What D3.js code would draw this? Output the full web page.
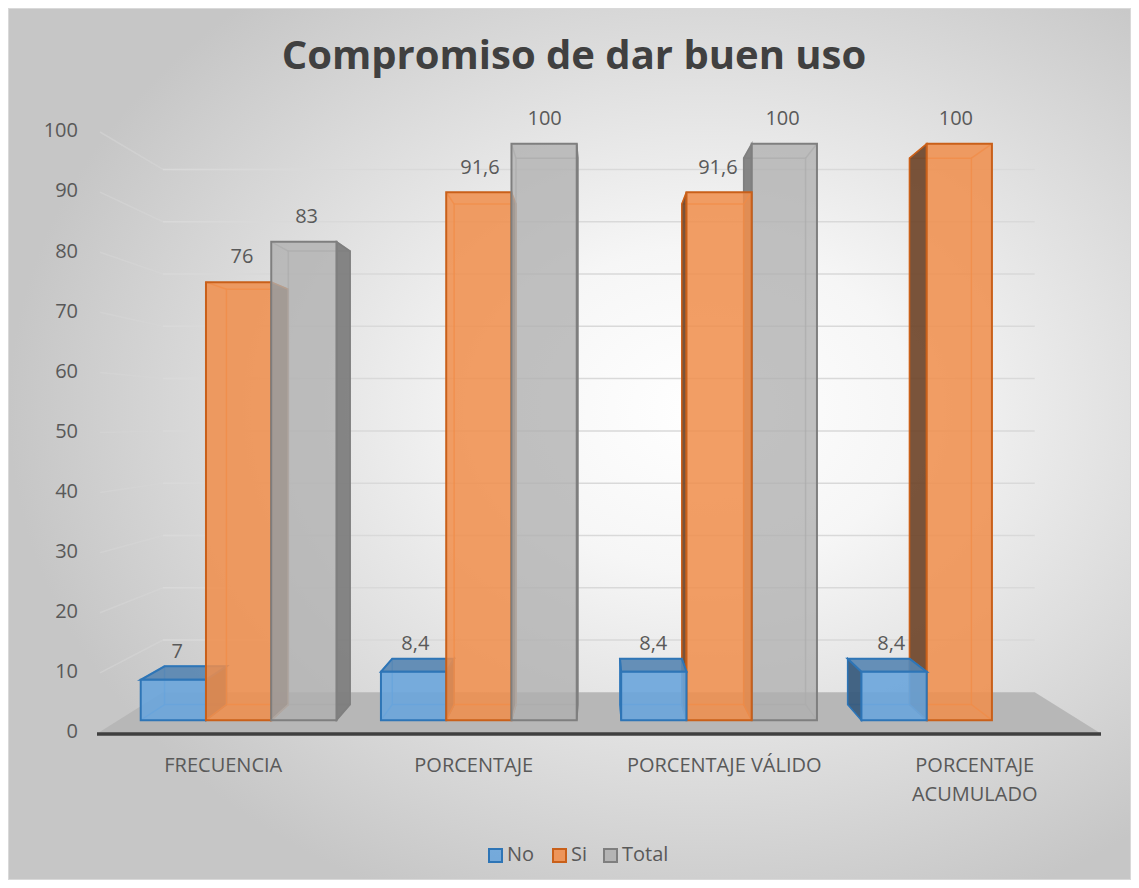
<!DOCTYPE html>
<html>
<head>
<meta charset="utf-8">
<script src="https://cdn.jsdelivr.net/npm/d3@7"></script>
<style>
  body { margin: 0; background: #ffffff; }
  svg text { font-family: "Open Sans", "Noto Sans", sans-serif; fill: #595959; }
</style>
</head>
<body>
<svg id="chart" width="1139" height="888"></svg>
<script>
// chart data
var categories = ["FRECUENCIA", "PORCENTAJE", "PORCENTAJE VÁLIDO", "PORCENTAJE ACUMULADO"];
var seriesNames = ["No", "Si", "Total"];
var noValues = [7, 8.4, 8.4, 8.4];
var siValues = [76, 91.6, 91.6, 100];
var totalValues = [83, 100, 100, null];
var yTicks = [0, 10, 20, 30, 40, 50, 60, 70, 80, 90, 100];

var seriesValues = [noValues, siValues, totalValues];
var colors = ["#6AA5DB", "#F08E4C", "#B0B0B0"];
var sideColors = ["#35597c", "#6f452a", "#7c7c7c"];
var strokes = ["#2E75B6", "#C9601A", "#7F7F7F"];
var opac = [0.9, 0.86, 0.78];

var svg = d3.select("#chart"),
    width = +svg.attr("width"),
    height = +svg.attr("height");

// background gradient
var defs = svg.append("defs");
var grad = defs.append("radialGradient")
    .attr("id", "bg")
    .attr("cx", "0.62").attr("cy", "0.46").attr("r", "0.62");
grad.append("stop").attr("offset", "0").attr("stop-color", "#ffffff");
grad.append("stop").attr("offset", "0.3").attr("stop-color", "#f6f6f6");
grad.append("stop").attr("offset", "1").attr("stop-color", "#c6c6c6");

svg.append("rect")
    .attr("x", 8.5).attr("y", 8.5)
    .attr("width", width - 17).attr("height", height - 17)
    .attr("fill", "url(#bg)")
    .attr("stroke", "#d9d9d9");

// scales on the front plane
var x0 = d3.scaleBand()
    .domain(categories)
    .range([98, 1100])
    .paddingInner(0.185)
    .paddingOuter(0.0925);
var x1 = d3.scaleBand()
    .domain(seriesNames)
    .range([0, x0.bandwidth()]);
var y = d3.scaleLinear()
    .domain([0, 100])
    .range([733, 132]);

// simple perspective: move a front-plane point towards the vanishing point
var VX = 598, VY = 420;
var tFront = 0.041, tBack = 0.091, tWall = 0.13;
function proj(px, py, t) {
  return [px + (VX - px) * t, py + (VY - py) * t];
}
function pts(arr) {
  return arr.map(function(p) { return p.join(","); }).join(" ");
}

var xLeft = x0.range()[0], xRight = x0.range()[1];

// side wall + back wall gridlines
var grid = svg.append("g");
yTicks.forEach(function(v) {
  if (v === 0) return;
  var a = [xLeft + 2, y(v)], b = proj(xLeft, y(v), tWall), c = proj(xRight, y(v), tWall);
  grid.append("line")
      .attr("x1", a[0]).attr("y1", a[1]).attr("x2", b[0]).attr("y2", b[1])
      .attr("stroke", "#d6d6d6").attr("stroke-width", 1.5).attr("opacity", 0.6);
  grid.append("line")
      .attr("x1", b[0]).attr("y1", b[1]).attr("x2", c[0]).attr("y2", c[1])
      .attr("stroke", "#d9d9d9").attr("stroke-width", 1.5);
});

// floor
var floor = [
  [xLeft, y(0)], [xRight, y(0)],
  proj(xRight, y(0), tWall), proj(xLeft, y(0), tWall)
];
svg.append("polygon")
    .attr("points", pts(floor))
    .attr("fill", "#b7b7b7");

svg.append("line")
    .attr("x1", xLeft - 1).attr("x2", xRight + 1)
    .attr("y1", y(0) + 1).attr("y2", y(0) + 1)
    .attr("stroke", "#3f3f3f").attr("stroke-width", 3.5);

// y tick labels
svg.append("g").selectAll("text")
    .data(yTicks)
  .enter().append("text")
    .attr("x", 78)
    .attr("y", function(d) { return y(d); })
    .attr("text-anchor", "end")
    .attr("dominant-baseline", "middle")
    .style("font-size", "20px")
    .text(function(d) { return d; });

// build bars
var bars = [];
categories.forEach(function(cat, i) {
  seriesNames.forEach(function(s, j) {
    var v = seriesValues[j][i];
    if (v === null || v === undefined) return;
    var xa = x0(cat) + x1(s), xb = xa + x1.bandwidth();
    bars.push({cat: cat, s: j, v: v, xa: xa, xb: xb, cx: (xa + xb) / 2});
  });
});
// far from the vanishing point first
bars.sort(function(a, b) { return Math.abs(b.cx - VX) - Math.abs(a.cx - VX); });

var fmt = d3.formatLocale({decimal: ",", thousands: ".", grouping: [3], currency: ["", ""]}).format("~f");

var gBars = svg.append("g");
bars.forEach(function(d) {
  var y0 = y(0), y1 = y(d.v);
  var fBL = proj(d.xa, y0, tFront), fBR = proj(d.xb, y0, tFront),
      fTR = proj(d.xb, y1, tFront), fTL = proj(d.xa, y1, tFront);
  var bBL = proj(d.xa, y0, tBack), bBR = proj(d.xb, y0, tBack),
      bTR = proj(d.xb, y1, tBack), bTL = proj(d.xa, y1, tBack);
  var col = colors[d.s], st = strokes[d.s];
  var edge = d3.color(strokes[d.s]).brighter(0.6);
  var g = gBars.append("g");

  // back edges (seen through)
  g.append("polygon")
      .attr("points", pts([bBL, bBR, bTR, bTL]))
      .attr("fill", "none")
      .attr("stroke", edge).attr("stroke-width", 1.5).attr("stroke-opacity", 0.7);
  [[fBL, bBL], [fTL, bTL], [fBR, bBR], [fTR, bTR]].forEach(function(e) {
    g.append("line")
        .attr("x1", e[0][0]).attr("y1", e[0][1]).attr("x2", e[1][0]).attr("y2", e[1][1])
        .attr("stroke", edge).attr("stroke-width", 1.5).attr("stroke-opacity", 0.7);
  });

  // side face
  var side = d.cx < VX ? [fBR, bBR, bTR, fTR] : [fBL, bBL, bTL, fTL];
  g.append("polygon")
      .attr("points", pts(side))
      .attr("fill", sideColors[d.s]).attr("fill-opacity", 0.92)
      .attr("stroke", st).attr("stroke-width", 1.5);

  // top face only when it sits below eye level
  if (y1 > VY) {
    g.append("polygon")
        .attr("points", pts([fTL, fTR, bTR, bTL]))
        .attr("fill", d3.color(col).darker(0.6)).attr("fill-opacity", 0.9)
        .attr("stroke", st).attr("stroke-width", 2);
  }

  // front face
  g.append("polygon")
      .attr("points", pts([fBL, fBR, fTR, fTL]))
      .attr("fill", col).attr("fill-opacity", opac[d.s])
      .attr("stroke", st).attr("stroke-width", 2);

  // data label
  var top = Math.min(fTL[1], bTL[1]);
  g.append("text")
      .attr("x", proj(d.cx, y1, 0.05)[0])
      .attr("y", top - (y1 > VY ? 14 : 24))
      .attr("text-anchor", "middle")
      .attr("dominant-baseline", "middle")
      .style("font-size", "20px")
      .text(fmt(d.v));
});

// category labels
var catG = svg.append("g");
categories.forEach(function(cat) {
  var words = cat.length > 18 ? [cat.split(" ")[0], cat.split(" ").slice(1).join(" ")] : [cat];
  var t = catG.append("text")
      .attr("x", x0(cat) + x0.bandwidth() / 2)
      .attr("y", 767)
      .attr("text-anchor", "middle")
      .attr("dominant-baseline", "middle")
      .style("font-size", "20px");
  words.forEach(function(w, k) {
    t.append("tspan")
        .attr("x", x0(cat) + x0.bandwidth() / 2)
        .attr("dy", k === 0 ? 0 : 29)
        .text(w);
  });
});

// title
svg.append("text")
    .attr("x", 574)
    .attr("y", 58)
    .attr("text-anchor", "middle")
    .attr("dominant-baseline", "middle")
    .style("font-size", "40px")
    .style("font-weight", "bold")
    .style("fill", "#404040")
    .text("Compromiso de dar buen uso");

// legend
var legendX = [488, 552, 603];
var legend = svg.append("g");
seriesNames.forEach(function(s, j) {
  legend.append("rect")
      .attr("x", legendX[j] + 1).attr("y", 849)
      .attr("width", 13).attr("height", 13)
      .attr("fill", colors[j]).attr("fill-opacity", 0.9)
      .attr("stroke", strokes[j]).attr("stroke-width", 2);
  legend.append("text")
      .attr("x", legendX[j] + 19).attr("y", 856)
      .attr("dominant-baseline", "middle")
      .style("font-size", "20px")
      .text(s);
});
</script>
</body>
</html>
